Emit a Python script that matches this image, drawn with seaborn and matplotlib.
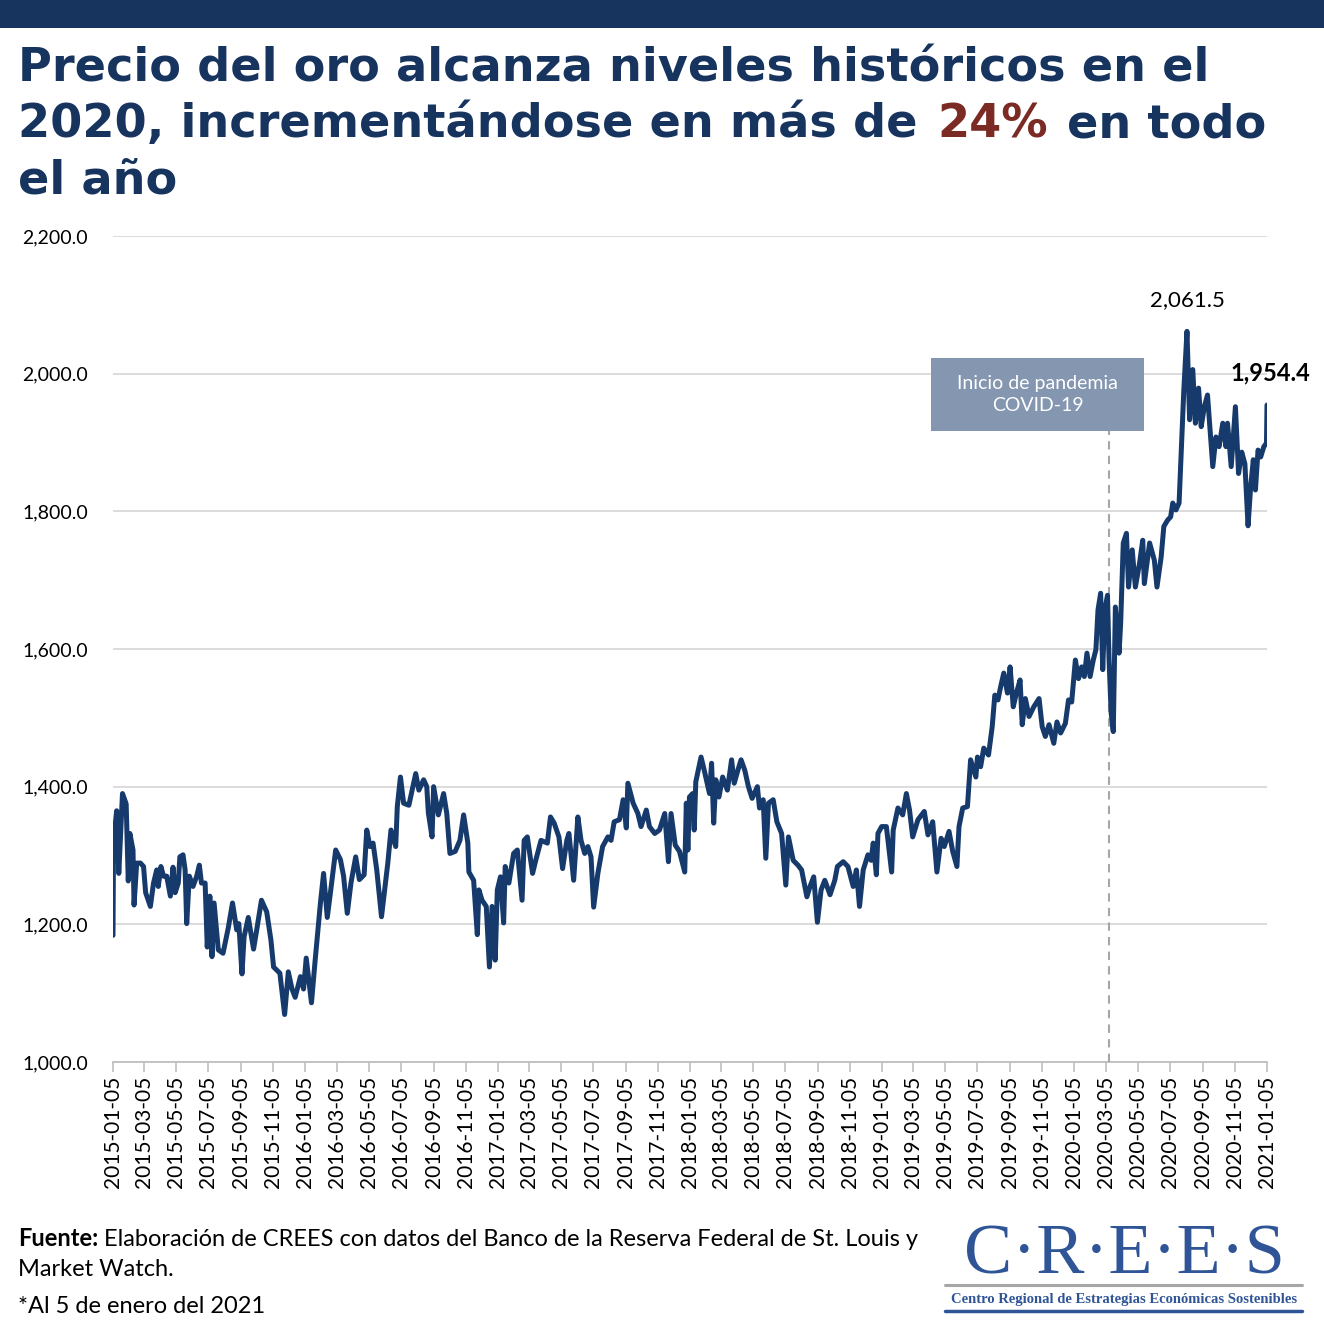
import pandas as pd
import numpy as np
import matplotlib.pyplot as plt
import matplotlib.dates as mdates
from matplotlib.patches import Rectangle
from matplotlib.lines import Line2D
import seaborn as sns

# --- Colours ---
NAVY = '#17345f'
LINE_COLOR = '#173a6c'
RED = '#7b2b24'
GRID = '#d9d9d9'
BOX = '#8496b0'
LOGO = '#2f5597'

# --- Data ---
dates = [
    '2015-01-05', '2015-01-06', '2015-01-12', '2015-01-16', '2015-01-23', '2015-01-30', '2015-02-03',
    '2015-02-06', '2015-02-12', '2015-02-14', '2015-02-19', '2015-02-26', '2015-03-04', '2015-03-08',
    '2015-03-17', '2015-03-23', '2015-03-29', '2015-04-01', '2015-04-06', '2015-04-11', '2015-04-17',
    '2015-04-24', '2015-04-29', '2015-05-03', '2015-05-09', '2015-05-12', '2015-05-18', '2015-05-22',
    '2015-05-25', '2015-05-30', '2015-06-06', '2015-06-13', '2015-06-18', '2015-06-22', '2015-06-29',
    '2015-07-03', '2015-07-08', '2015-07-12', '2015-07-16', '2015-07-24', '2015-08-02', '2015-08-12',
    '2015-08-20', '2015-08-28', '2015-09-01', '2015-09-07', '2015-09-11', '2015-09-19', '2015-09-29',
    '2015-10-05', '2015-10-14', '2015-10-24', '2015-11-01', '2015-11-06', '2015-11-18', '2015-11-27',
    '2015-12-04', '2015-12-11', '2015-12-17', '2015-12-27',
    '2016-01-02', '2016-01-07', '2016-01-17', '2016-01-24', '2016-02-03', '2016-02-09', '2016-02-16',
    '2016-02-22', '2016-03-03', '2016-03-12', '2016-03-18', '2016-03-25', '2016-04-01', '2016-04-10',
    '2016-04-17', '2016-04-26', '2016-05-01', '2016-05-07', '2016-05-13', '2016-05-20', '2016-05-29',
    '2016-06-10', '2016-06-16', '2016-06-25', '2016-06-28', '2016-07-04', '2016-07-10', '2016-07-20',
    '2016-08-02', '2016-08-08', '2016-08-17', '2016-08-23', '2016-08-26', '2016-09-02', '2016-09-05',
    '2016-09-14', '2016-09-24', '2016-09-30', '2016-10-06', '2016-10-16', '2016-10-25', '2016-11-01',
    '2016-11-09', '2016-11-11', '2016-11-20', '2016-11-27', '2016-11-30', '2016-12-06', '2016-12-14',
    '2016-12-20', '2016-12-25', '2016-12-31',
    '2017-01-04', '2017-01-10', '2017-01-16', '2017-01-19', '2017-01-26', '2017-02-04', '2017-02-11',
    '2017-02-20', '2017-02-24', '2017-03-02', '2017-03-12', '2017-03-18', '2017-03-28', '2017-04-09',
    '2017-04-15', '2017-04-22', '2017-05-01', '2017-05-08', '2017-05-16', '2017-05-20', '2017-05-29',
    '2017-06-06', '2017-06-12', '2017-06-19', '2017-06-25', '2017-07-01', '2017-07-06', '2017-07-14',
    '2017-07-23', '2017-08-02', '2017-08-08', '2017-08-14', '2017-08-24', '2017-08-31', '2017-09-06',
    '2017-09-09', '2017-09-19', '2017-09-28', '2017-10-04', '2017-10-14', '2017-10-20', '2017-10-30',
    '2017-11-08', '2017-11-18', '2017-11-25', '2017-11-30', '2017-12-08', '2017-12-16', '2017-12-26',
    '2017-12-29',
    '2018-01-01', '2018-01-04', '2018-01-10', '2018-01-13', '2018-01-16', '2018-01-26', '2018-02-01',
    '2018-02-11', '2018-02-15', '2018-02-19', '2018-02-23', '2018-03-01', '2018-03-08', '2018-03-17',
    '2018-03-25', '2018-03-30', '2018-04-06', '2018-04-12', '2018-04-19', '2018-04-26', '2018-05-03',
    '2018-05-13', '2018-05-17', '2018-05-24', '2018-05-29', '2018-06-03', '2018-06-12', '2018-06-19',
    '2018-06-28', '2018-07-06', '2018-07-11', '2018-07-20', '2018-07-29', '2018-08-05', '2018-08-15',
    '2018-08-21', '2018-08-28', '2018-09-04', '2018-09-11', '2018-09-18', '2018-09-28', '2018-10-07',
    '2018-10-12', '2018-10-23', '2018-11-01', '2018-11-11', '2018-11-17', '2018-11-23', '2018-11-30',
    '2018-12-09', '2018-12-15', '2018-12-19', '2018-12-25', '2018-12-28',
    '2019-01-04', '2019-01-13', '2019-01-23', '2019-01-26', '2019-02-04', '2019-02-13', '2019-02-20',
    '2019-02-26', '2019-03-04', '2019-03-14', '2019-03-26', '2019-04-02', '2019-04-11', '2019-04-19',
    '2019-04-27', '2019-05-03', '2019-05-12', '2019-05-19', '2019-05-27', '2019-05-31', '2019-06-07',
    '2019-06-16', '2019-06-22', '2019-07-02', '2019-07-05', '2019-07-11', '2019-07-17', '2019-07-26',
    '2019-08-02', '2019-08-07', '2019-08-13', '2019-08-18', '2019-08-24', '2019-08-31', '2019-09-05',
    '2019-09-11', '2019-09-17', '2019-09-24', '2019-09-28', '2019-10-04', '2019-10-11', '2019-10-20',
    '2019-10-30', '2019-11-05', '2019-11-11', '2019-11-18', '2019-11-27', '2019-12-03', '2019-12-10',
    '2019-12-19', '2019-12-25', '2019-12-31',
    '2020-01-07', '2020-01-13', '2020-01-19', '2020-01-24', '2020-01-29', '2020-02-04', '2020-02-10',
    '2020-02-15', '2020-02-19', '2020-02-24', '2020-02-28', '2020-03-03', '2020-03-08', '2020-03-11',
    '2020-03-15', '2020-03-19', '2020-03-23', '2020-03-30', '2020-04-02', '2020-04-07', '2020-04-13',
    '2020-04-17', '2020-04-24', '2020-04-30', '2020-05-08', '2020-05-14', '2020-05-17', '2020-05-27',
    '2020-06-05', '2020-06-10', '2020-06-18', '2020-06-23', '2020-06-30', '2020-07-06', '2020-07-10',
    '2020-07-16', '2020-07-22', '2020-07-26', '2020-07-31', '2020-08-06', '2020-08-11', '2020-08-17',
    '2020-08-22', '2020-08-28', '2020-09-02', '2020-09-08', '2020-09-14', '2020-09-24', '2020-09-30',
    '2020-10-06', '2020-10-13', '2020-10-19', '2020-10-22', '2020-10-29', '2020-11-06', '2020-11-12',
    '2020-11-18', '2020-11-24', '2020-11-30', '2020-12-05', '2020-12-10', '2020-12-14', '2020-12-19',
    '2020-12-24', '2020-12-30', '2021-01-04', '2021-01-05',
]

prices = [
    1184, 1322, 1365, 1274, 1390, 1375, 1263,
    1332, 1308, 1228, 1289, 1289, 1284, 1246,
    1226, 1260, 1279, 1255, 1284, 1270, 1270,
    1241, 1283, 1246, 1260, 1298, 1301, 1279,
    1201, 1270, 1255, 1270, 1286, 1260, 1260,
    1167, 1241, 1153, 1231, 1163, 1158, 1195,
    1231, 1192, 1201, 1128, 1182, 1210, 1164,
    1192, 1235, 1218, 1177, 1138, 1129, 1069,
    1131, 1106, 1094, 1124,
    1106, 1151, 1086, 1148, 1231, 1274, 1210,
    1246, 1308, 1294, 1270, 1216, 1260, 1298,
    1265, 1272, 1337, 1313, 1318, 1279, 1211,
    1289, 1337, 1313, 1371, 1414, 1376, 1373,
    1419, 1395, 1410, 1400, 1362, 1327, 1400,
    1359, 1390, 1361, 1303, 1306, 1322, 1359,
    1318, 1276, 1264, 1185, 1250, 1235, 1226,
    1138, 1226, 1148,
    1250, 1269, 1202, 1284, 1260, 1303, 1308,
    1235, 1322, 1327, 1274, 1293, 1322, 1318,
    1356, 1347, 1327, 1281, 1322, 1332, 1264,
    1356, 1322, 1303, 1313, 1298, 1225, 1274,
    1313, 1327, 1322, 1349, 1352, 1381, 1340,
    1405, 1376, 1361, 1342, 1366, 1342, 1332,
    1337, 1361, 1291, 1361, 1315, 1306, 1276,
    1376,
    1308, 1385, 1390, 1337, 1407, 1443, 1424,
    1390, 1434, 1347, 1410, 1385, 1414, 1395,
    1439, 1405, 1424, 1439, 1424, 1400, 1383,
    1400, 1369, 1381, 1296, 1376, 1381, 1349,
    1332, 1257, 1327, 1293, 1286, 1279, 1240,
    1255, 1269, 1203, 1250, 1264, 1243, 1264,
    1284, 1291, 1284, 1255, 1279, 1226, 1279,
    1301, 1293, 1318, 1272, 1332,
    1342, 1342, 1276, 1337, 1369, 1359, 1390,
    1366, 1327, 1352, 1364, 1330, 1349, 1276,
    1325, 1313, 1335, 1306, 1284, 1342, 1369,
    1371, 1439, 1414, 1443, 1429, 1456, 1446,
    1487, 1533, 1526, 1545, 1565, 1536, 1574,
    1516, 1536, 1555, 1490, 1528, 1502, 1516,
    1528, 1487, 1473, 1490, 1463, 1494, 1478,
    1492, 1526, 1523,
    1584, 1557, 1574, 1560, 1594, 1560, 1584,
    1599, 1657, 1681, 1570, 1657, 1678, 1584,
    1507, 1480, 1661, 1594, 1637, 1754, 1768,
    1690, 1744, 1690, 1725, 1758, 1695, 1754,
    1729, 1690, 1734, 1778, 1787, 1792, 1812,
    1802, 1812, 1884, 1976, 2061.5, 1933, 2006,
    1928, 1979, 1923, 1952, 1969, 1865, 1908,
    1894, 1928, 1894, 1928, 1865, 1952, 1855,
    1886, 1869, 1779, 1836, 1875, 1831, 1889,
    1879, 1894, 1899, 1954.4,
]

y_ticks = [1000, 1200, 1400, 1600, 1800, 2000, 2200]
x_ticks = pd.date_range('2015-01-01', '2021-01-01', freq='2MS') + pd.Timedelta(days=4)
pandemic_date = '2020-03-11'
peak_date, peak_value = '2020-08-06', 2061.5
last_date, last_value = '2021-01-05', 1954.4

df = pd.DataFrame({'fecha': pd.to_datetime(dates), 'precio': prices})

# --- Figure ---
W, H = 1324, 1326
sns.set_theme(style='white')
plt.rcParams['font.family'] = ['Lato', 'DejaVu Sans']

fig = plt.figure(figsize=(W / 100, H / 100), dpi=100)
fig.patch.set_facecolor('white')


def fx(px):
    return px / W


def fy(py):
    return 1 - py / H


ax = fig.add_axes([fx(113), fy(1062), fx(1267 - 113), (1062 - 236) / H])

sns.lineplot(data=df, x='fecha', y='precio', color=LINE_COLOR, linewidth=3.6, ax=ax, zorder=4)

ax.set_xlim(pd.Timestamp('2015-01-05'), pd.Timestamp('2021-01-05'))
ax.set_ylim(1000, 2200)
ax.set_xlabel('')
ax.set_ylabel('')

ax.set_yticks(y_ticks)
ax.set_yticklabels([f'{v:,.1f}' for v in y_ticks], fontsize=14, color='black')
ax.set_xticks(x_ticks)
ax.set_xticklabels([d.strftime('%Y-%m-%d') for d in x_ticks], rotation=90, fontsize=15, color='black')
ax.tick_params(axis='y', length=0, pad=18)
ax.tick_params(axis='x', length=7, width=1.2, color='#bfbfbf', direction='out', pad=3, bottom=True)

ax.yaxis.grid(True, color=GRID, linewidth=1.3)
ax.xaxis.grid(False)
for side in ['left', 'top', 'right']:
    ax.spines[side].set_visible(False)
ax.spines['bottom'].set_color('#bfbfbf')
ax.spines['bottom'].set_linewidth(1.3)
ax.spines['bottom'].set_zorder(1)

# --- Pandemic annotation ---
pdate = mdates.date2num(pd.Timestamp(pandemic_date))
box_x0 = mdates.date2num(pd.Timestamp('2019-04-08'))
box_x1 = mdates.date2num(pd.Timestamp('2020-05-17'))
ax.plot([pdate, pdate], [1000, 1916], color='#a6a6a6', linestyle=(0, (4, 3)), linewidth=1.5, zorder=2)
ax.add_patch(Rectangle((box_x0, 1916), box_x1 - box_x0, 107, facecolor=BOX, edgecolor='none',
                       zorder=5, clip_on=False))
ax.text((box_x0 + box_x1) / 2, 1969.5, 'Inicio de pandemia\nCOVID-19', ha='center', va='center',
        color='white', fontsize=14, linespacing=1.35, zorder=6)

ax.text(pd.Timestamp(peak_date), 2107, f'{peak_value:,.1f}', ha='center', va='center',
        fontsize=16, color='black', clip_on=False)
ax.text(pd.Timestamp(last_date) + pd.Timedelta(days=6), 2001, f'{last_value:,.1f}', ha='center',
        va='center', fontsize=17, fontweight='bold', color='black', clip_on=False)

# --- Top banner ---
fig.add_artist(Rectangle((0, fy(28)), 1, 28 / H, transform=fig.transFigure, facecolor=NAVY,
                         edgecolor='none'))

# --- Title ---
renderer = fig.canvas.get_renderer()
title_kw = dict(fontweight='bold', color=NAVY, family='DejaVu Sans', va='baseline', ha='left')
t1 = fig.text(fx(18), fy(82), 'Precio del oro alcanza niveles históricos en el', fontsize=32, **title_kw)
width = t1.get_window_extent(renderer).width
title_size = 32 * 1192 / width
t1.set_fontsize(title_size)

t2a = fig.text(fx(18), fy(137), '2020, incrementándose en más de', fontsize=title_size, **title_kw)
space = title_size * 0.42 * 100 / 72
ext = t2a.get_window_extent(renderer)
t2b = fig.text((ext.x1 + space) / W, fy(137), '24%', fontsize=title_size,
               **{**title_kw, 'color': RED})
ext = t2b.get_window_extent(renderer)
fig.text((ext.x1 + space) / W, fy(137), 'en todo', fontsize=title_size, **title_kw)
fig.text(fx(18), fy(193), 'el año', fontsize=title_size, **title_kw)

# --- Footer ---
foot_kw = dict(fontsize=17, color='black', va='baseline', ha='left')
f1 = fig.text(fx(18), fy(1246), 'Fuente:', fontweight='bold', **foot_kw)
ext = f1.get_window_extent(renderer)
fig.text((ext.x1 + 6) / W, fy(1246),
         'Elaboración de CREES con datos del Banco de la Reserva Federal de St. Louis y', **foot_kw)
fig.text(fx(18), fy(1276), 'Market Watch.', **foot_kw)
fig.text(fx(18), fy(1313), '*Al 5 de enero del 2021', **foot_kw)

# --- Logo ---
fig.text(fx(1124), fy(1274), 'C·R·E·E·S', family='Liberation Serif', fontsize=52, color=LOGO,
         ha='center', va='baseline')
fig.add_artist(Line2D([fx(945), fx(1302)], [fy(1285), fy(1285)], color='#a6a6a6', linewidth=2.2))
fig.text(fx(1124), fy(1299), 'Centro Regional de Estrategias Económicas Sostenibles',
         family='Liberation Serif', fontweight='bold', fontsize=10.5, color=LOGO, ha='center', va='center')
fig.add_artist(Line2D([fx(945), fx(1302)], [fy(1311), fy(1311)], color=LOGO, linewidth=2.5))

fig.savefig('out.png', dpi=100)
